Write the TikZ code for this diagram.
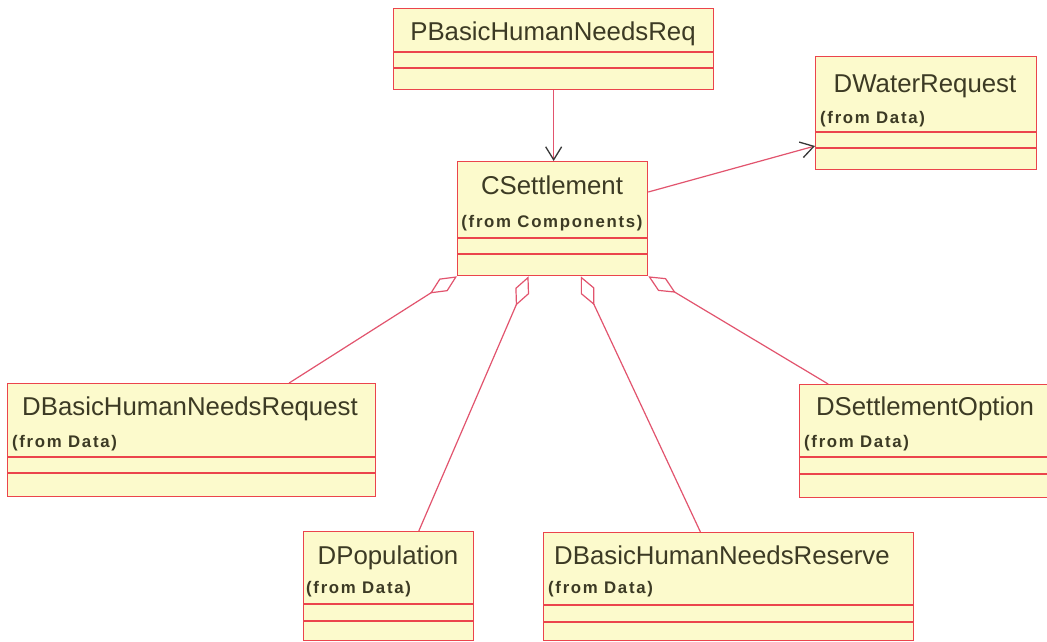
\documentclass[tikz,border=0pt]{standalone}
\usepackage{fontspec}
\setmainfont{Liberation Sans}
\newfontfamily\notefont[LetterSpace=10]{Liberation Sans}
\usetikzlibrary{arrows.meta,calc}

\definecolor{clsfill}{RGB}{252,250,204}
\definecolor{clsedge}{RGB}{235,68,76}
\definecolor{linkcol}{RGB}{226,84,110}
\definecolor{inkcol}{RGB}{60,58,36}
\definecolor{tipcol}{RGB}{55,55,55}

\tikzset{
  cls/.style={draw=clsedge, fill=clsfill, line width=1.3pt, inner sep=0pt, anchor=north west},
  compart/.style={draw=clsedge, line width=1.3pt},
  clsname/.style={text=inkcol, font=\fontsize{25.8}{28}\selectfont, inner sep=0pt, anchor=base},
  clsnote/.style={text=inkcol, font=\notefont\bfseries\fontsize{16.8}{18}\selectfont, inner sep=0pt, anchor=base},
  link/.style={draw=linkcol, line width=1.2pt},
  navig/.style={link, -{Straight Barb[length=13pt,width=16pt,color=tipcol,line width=1.3pt]}},
  aggr/.style={link, {Diamond[open,length=32pt,width=15pt]}-},
}

% class box: name, x, y (top left), width, height, two compartment offsets
\newcommand\classbox[7]{%
  \node[cls, minimum width=#4pt, minimum height=#5pt] (#1) at (#2,#3) {};
  \draw[compart] ([yshift=-#6pt]#1.north west) -- ([yshift=-#6pt]#1.north east);
  \draw[compart] ([yshift=-#7pt]#1.north west) -- ([yshift=-#7pt]#1.north east);
}

\begin{document}
\begin{tikzpicture}[x=1pt,y=-1pt]
  \useasboundingbox[fill=white] (0,0) rectangle (1047,642);
  \clip (0,0) rectangle (1047,642);

  \classbox{pb}{393}{8}{320}{81}{44}{60}
  \classbox{cs}{457}{161}{190}{114}{77}{93}
  \classbox{dw}{815}{56}{221}{113}{76}{92}
  \classbox{dr}{7}{383}{368}{113}{74}{90}
  \classbox{ds}{799}{384}{252}{113}{73}{90}
  \classbox{dp}{303}{531}{170}{109}{73}{90}
  \classbox{dn}{543}{532}{370}{108}{73}{90}

  % class names and package notes
  \node[clsname] (pbname) at (553,41) {PBasicHumanNeedsReq};
  \node[clsname] (csname) at (552,194.5) {CSettlement};
  \node[clsnote] (csnote) at (552,227) {(from Components)};
  \node[clsname] (dwname) at (925,92.5) {DWaterRequest};
  \node[clsnote, anchor=base west] (dwnote) at (820,123) {(from Data)};
  \node[clsname] (drname) at (190,415.5) {DBasicHumanNeedsRequest};
  \node[clsnote, anchor=base west] (drnote) at (12,447) {(from Data)};
  \node[clsname] (dsname) at (925,415.5) {DSettlementOption};
  \node[clsnote, anchor=base west] (dsnote) at (804,447) {(from Data)};
  \node[clsname] (dpname) at (388,564) {DPopulation};
  \node[clsnote, anchor=base west] (dpnote) at (306,593) {(from Data)};
  \node[clsname] (dnname) at (722,564) {DBasicHumanNeedsReserve};
  \node[clsnote, anchor=base west] (dnnote) at (548,593) {(from Data)};

  % navigable associations
  \draw[navig] (pb.south) -- (pb.south |- cs.north);
  \draw[navig] ([yshift=-31pt]cs.north east) -- ([yshift=-90pt]dw.north west);

  % aggregations
  \draw[aggr] (cs.south west) -- ($(dr.north west)!0.764!(dr.north east)$);
  \draw[aggr] ($(cs.south west)!0.374!(cs.south east)$) -- ($(dp.north west)!0.676!(dp.north east)$);
  \draw[aggr] ($(cs.south west)!0.647!(cs.south east)$) -- ($(dn.north west)!0.424!(dn.north east)$);
  \draw[aggr] (cs.south east) -- ($(ds.north west)!0.115!(ds.north east)$);
\end{tikzpicture}
\end{document}
